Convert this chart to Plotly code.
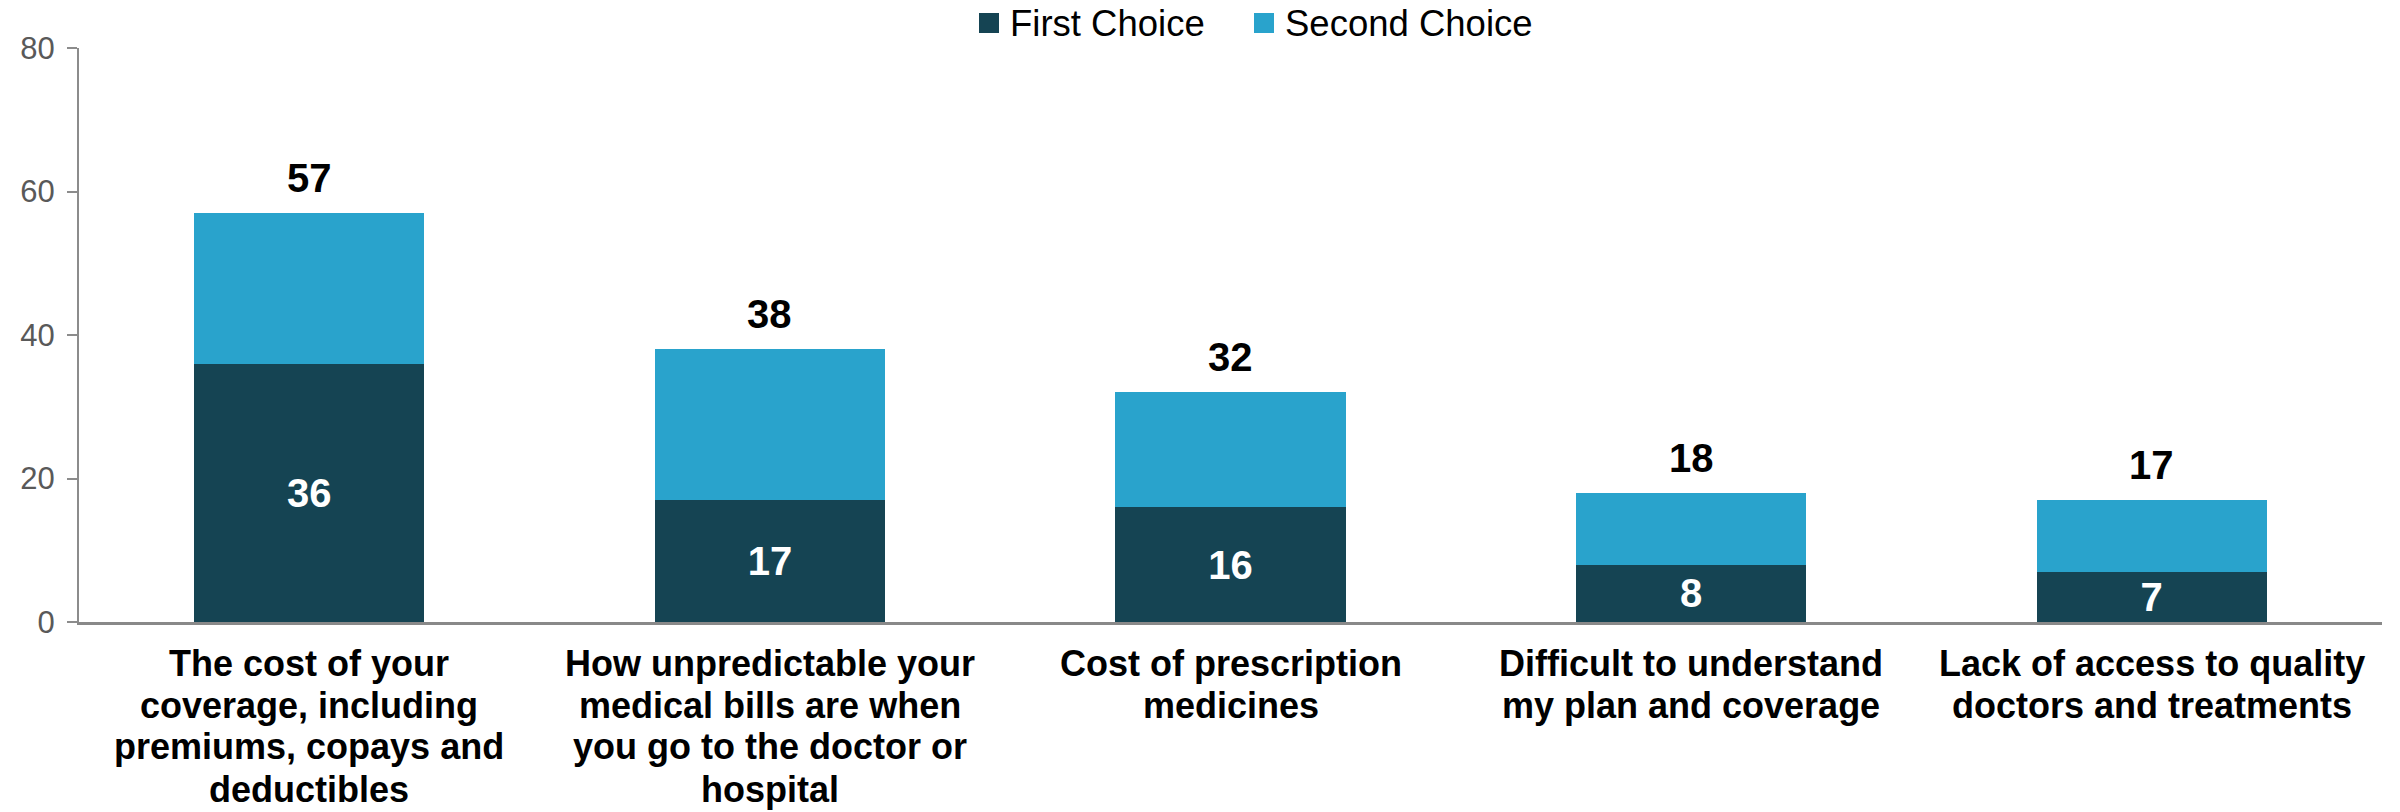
import plotly.graph_objects as go

# Survey responses: share choosing each concern as first / second choice
categories = [
    "The cost of your<br>coverage, including<br>premiums, copays and<br>deductibles",
    "How unpredictable your<br>medical bills are when<br>you go to the doctor or<br>hospital",
    "Cost of prescription<br>medicines",
    "Difficult to understand<br>my plan and coverage",
    "Lack of access to quality<br>doctors and treatments",
]
first_choice = [36, 17, 16, 8, 7]
second_choice = [21, 21, 16, 10, 10]
totals = [57, 38, 32, 18, 17]
y_ticks = [0, 20, 40, 60, 80]

DARK = "#154453"
LIGHT = "#29A3CC"
FONT = "Liberation Sans, Arial, sans-serif"

W, H = 2400, 812
ML, MR, MT, MB = 79, 18, 48, 190
PW, PH = W - ML - MR, H - MT - MB

def px_x(px):
    return (px - ML) / PW

def px_y(py):
    return (H - MB - py) / PH

x_idx = list(range(len(categories)))

fig = go.Figure()
fig.add_trace(go.Bar(
    x=x_idx, y=first_choice, name="First Choice",
    marker=dict(color=DARK, line=dict(width=0)),
    text=[str(v) for v in first_choice], textposition="inside",
    insidetextanchor="middle", textangle=0,
    textfont=dict(family=FONT, size=40, color="white", weight="bold"),
))
fig.add_trace(go.Bar(
    x=x_idx, y=second_choice, name="Second Choice",
    marker=dict(color=LIGHT, line=dict(width=0)),
))

# Totals above each stack
for i, t in enumerate(totals):
    fig.add_annotation(
        x=i, y=t, text=f"<b>{t}</b>", showarrow=False,
        xanchor="center", yanchor="bottom", yshift=11,
        font=dict(family=FONT, size=40, color="black"),
    )

# Category labels under the axis, one line at a time for tighter leading
LINE_TOP, LEADING = 663, 42
for i, cat in enumerate(categories):
    for k, line in enumerate(cat.split("<br>")):
        fig.add_annotation(
            x=i, xref="x", yref="paper", y=px_y(LINE_TOP + k * LEADING),
            text=f"<b>{line}</b>", showarrow=False,
            xanchor="center", yanchor="middle",
            font=dict(family=FONT, size=36, color="black"),
        )

# Legend drawn as swatches + labels across the top
legend_items = [("First Choice", DARK, 979), ("Second Choice", LIGHT, 1254)]
for label, color, x0 in legend_items:
    fig.add_shape(
        type="rect", xref="paper", yref="paper",
        x0=px_x(x0), x1=px_x(x0 + 20), y0=px_y(33), y1=px_y(13),
        fillcolor=color, line=dict(width=0),
    )
    fig.add_annotation(
        xref="paper", yref="paper", x=px_x(x0 + 29), y=px_y(23),
        text=label, showarrow=False, xanchor="left", yanchor="middle",
        font=dict(family=FONT, size=36.5, color="black"),
    )

fig.update_layout(
    width=W, height=H,
    margin=dict(l=ML, r=MR, t=MT, b=MB, pad=0, autoexpand=False),
    barmode="stack", bargap=0.5,
    plot_bgcolor="white", paper_bgcolor="white",
    showlegend=False,
    uniformtext=dict(minsize=40, mode="show"),
    font=dict(family=FONT),
)
fig.update_xaxes(
    range=[-0.5, len(categories) - 0.5], automargin=False,
    tickmode="array", tickvals=x_idx, showticklabels=False,
    showline=True, linecolor="#898989", linewidth=3,
    ticks="", showgrid=False, zeroline=False,
)
fig.update_yaxes(
    range=[0, 80], tickmode="array", tickvals=y_ticks, automargin=False,
    tickfont=dict(family=FONT, size=31, color="#595959"),
    showline=True, linecolor="#8c8c8c", linewidth=2,
    ticks="outside", ticklen=10, tickcolor="#8c8c8c", tickwidth=2,
    showgrid=False, zeroline=False, ticklabelstandoff=6,
)

fig.write_html("out.html")
